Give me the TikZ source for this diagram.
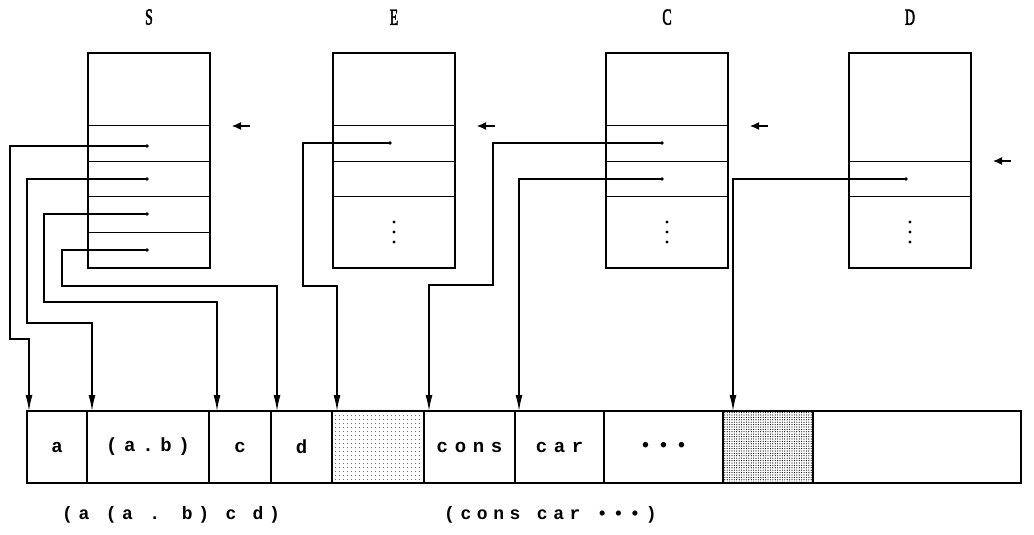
\documentclass[tikz,border=0pt]{standalone}
\usepackage{fontspec}
\setmainfont{Liberation Sans}
\newfontfamily\titlefont[FakeStretch=0.6, FakeBold=2]{Liberation Serif}
\newfontfamily\cellfont[LetterSpace=35]{Liberation Mono}
\newfontfamily\notefont[LetterSpace=31]{Liberation Mono}
\usepackage{tikz}
\usetikzlibrary{arrows.meta, positioning, calc, patterns.meta}

\begin{document}
\begin{tikzpicture}[
  x=1pt, y=-1pt,
  stackbox/.style={rectangle, draw, line width=1.1pt, minimum width=122pt,
                   minimum height=215pt, inner sep=0pt, outer sep=0pt, anchor=north west},
  title/.style={font=\titlefont\fontsize{23}{23}\selectfont, inner sep=0pt},
  slot/.style={line width=0.9pt},
  cell/.style={rectangle, draw, line width=1.1pt, minimum height=72pt,
               inner sep=0pt, outer sep=0pt, font=\cellfont\bfseries\fontsize{19}{19}\selectfont},
  note/.style={font=\notefont\bfseries\fontsize{18}{18}\selectfont, inner sep=0pt, anchor=west},
  ptr/.style={line width=1.3pt, -{Latex[length=16pt, width=7pt]}},
  spar/.style={line width=1.2pt, {Latex[length=9pt, width=8pt]}-},
  light/.style={pattern={Dots[distance=4pt, radius=0.55pt]}},
  dense/.style={pattern={Dots[distance=2.4pt, radius=0.6pt]}}
]
  \useasboundingbox (0,0) rectangle (1034,535);
  % stacks
  \node[stackbox] (S) at (88,53) {};
  \node[stackbox] (E) at (333,53) {};
  \node[stackbox] (C) at (606,53) {};
  \node[stackbox] (D) at (849,53) {};
  \node[title, above=28pt of S] (Slab) {S};
  \node[title, above=28pt of E] (Elab) {E};
  \node[title, above=28pt of C] (Clab) {C};
  \node[title, above=28pt of D] (Dlab) {D};
  \foreach \y in {125,161,196,232} \draw[slot] (S.west |- 0,\y) -- (S.east |- 0,\y);
  \foreach \y in {125,161,196} \draw[slot] (E.west |- 0,\y) -- (E.east |- 0,\y);
  \foreach \y in {125,161,196} \draw[slot] (C.west |- 0,\y) -- (C.east |- 0,\y);
  \foreach \y in {161,196} \draw[slot] (D.west |- 0,\y) -- (D.east |- 0,\y);
  \foreach \y in {222,232,242} {
    \fill (E.north |- 0,\y) circle (1.6pt);
    \fill (C.north |- 0,\y) circle (1.6pt);
    \fill (D.north |- 0,\y) circle (1.6pt);
  }
  % stack tops
  \coordinate (Stop) at ($(S.east |- 0,126)+(22,0)$);
  \coordinate (Etop) at ($(E.east |- 0,126)+(22,0)$);
  \coordinate (Ctop) at ($(C.east |- 0,126)+(22,0)$);
  \coordinate (Dtop) at ($(D.east |- 0,161)+(22,0)$);
  \foreach \t in {Stop,Etop,Ctop,Dtop} \draw[spar] (\t) -- ++(18,0);
  % pointer origins
  \coordinate (s1) at (147,146);
  \coordinate (s2) at (147,179);
  \coordinate (s3) at (147,214);
  \coordinate (s4) at (147,250);
  \coordinate (e1) at (390,143);
  \coordinate (c1) at (662,143);
  \coordinate (c2) at (662,179);
  \coordinate (d1) at (906,179);
  \foreach \p in {s1,s2,s3,s4,e1,c1,c2,d1} \fill (\p) circle (1.8pt);
  % memory cells
  \node[cell, minimum width=60pt, anchor=north west] (ca) at (27,411) {a};
  \node[cell, minimum width=122pt, right=0pt of ca] (cab) {(a.b)};
  \node[cell, minimum width=62pt, right=0pt of cab] (cc) {c};
  \node[cell, minimum width=61pt, right=0pt of cc] (cd) {d};
  \node[cell, light, minimum width=92pt, right=0pt of cd] (cE) {};
  \node[cell, minimum width=91pt, right=0pt of cE] (ccons) {cons};
  \node[cell, minimum width=89pt, right=0pt of ccons] (ccar) {car};
  \node[cell, minimum width=119pt, right=0pt of ccar] (cdots) {•••};
  \node[cell, dense, minimum width=90pt, right=0pt of cdots] (cD) {};
  \node[cell, minimum width=208pt, right=0pt of cD] (cfree) {};
  % lists
  \node[note] (lst1) at ($(ca.south west)+(35,32)$) {(a (a . b) c d)};
  \node[note] (lst2) at ($(ca.south west)+(417,32)$) {(cons car •••)};
  % pointers
  \draw[ptr] (s1) -| (10,339) -| ($(ca.north west)+(2,0)$);
  \draw[ptr] (s2) -| (27,323) -| ($(cab.north west)+(5,0)$);
  \draw[ptr] (s3) -| (44,302) -| ($(cc.north west)+(8,0)$);
  \draw[ptr] (s4) -| (62,286) -| ($(cd.north west)+(6,0)$);
  \draw[ptr] (e1) -| (303,286) -| ($(cE.north west)+(5,0)$);
  \draw[ptr] (c1) -| (493,285) -| ($(ccons.north west)+(5,0)$);
  \draw[ptr] (c2) -| ($(ccar.north west)+(4,0)$);
  \draw[ptr] (d1) -| ($(cD.north west)+(10,0)$);
\end{tikzpicture}
\end{document}
